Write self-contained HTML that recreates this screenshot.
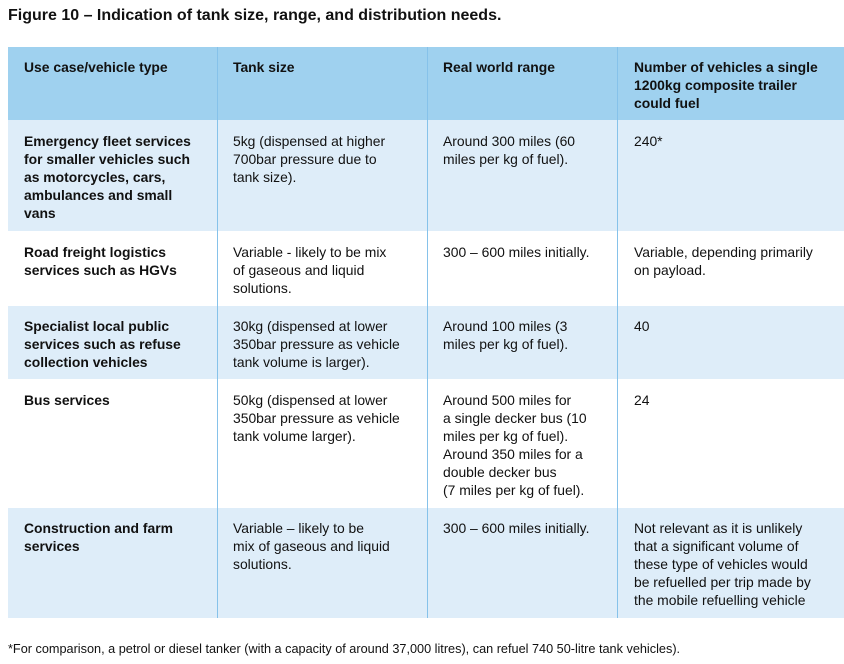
<!DOCTYPE html>
<html><head><meta charset="utf-8"><style>
body{margin:0;width:844px;height:664px;background:#fff;position:relative;overflow:hidden;font-family:"Liberation Sans",sans-serif;color:#111}
.t{position:absolute;left:8px;top:7px;font-size:16px;font-weight:bold}
.r{position:absolute;left:8px;width:836px}
.v{position:absolute;width:1px;background:#86c2ea;top:47px;height:571px}
.c{position:absolute;font-size:13.9px;line-height:18px;white-space:nowrap}
.b{font-weight:bold}
.f{position:absolute;left:8px;top:642px;font-size:12.7px}
</style></head><body>
<div class="t">Figure 10 – Indication of tank size, range, and distribution needs.</div>
<div class="r" style="top:47px;height:73px;background:#9fd1ef"></div>
<div class="r" style="top:120px;height:111px;background:#deedf9"></div>
<div class="r" style="top:306px;height:73px;background:#deedf9"></div>
<div class="r" style="top:508px;height:110px;background:#deedf9"></div>
<div class="v" style="left:217px"></div>
<div class="v" style="left:427px"></div>
<div class="v" style="left:617px"></div>

<div class="c b" style="left:24px;top:58px">Use case/vehicle type</div>
<div class="c b" style="left:233px;top:58px">Tank size</div>
<div class="c b" style="left:443px;top:58px">Real world range</div>
<div class="c b" style="left:634px;top:58px">Number of vehicles a single<br>1200kg composite trailer<br>could fuel</div>

<div class="c b" style="left:24px;top:132px">Emergency fleet services<br>for smaller vehicles such<br>as motorcycles, cars,<br>ambulances and small<br>vans</div>
<div class="c" style="left:233px;top:132px">5kg (dispensed at higher<br>700bar pressure due to<br>tank size).</div>
<div class="c" style="left:443px;top:132px">Around 300 miles (60<br>miles per kg of fuel).</div>
<div class="c" style="left:634px;top:132px">240*</div>

<div class="c b" style="left:24px;top:243px">Road freight logistics<br>services such as HGVs</div>
<div class="c" style="left:233px;top:243px">Variable - likely to be mix<br>of gaseous and liquid<br>solutions.</div>
<div class="c" style="left:443px;top:243px">300 – 600 miles initially.</div>
<div class="c" style="left:634px;top:243px">Variable, depending primarily<br>on payload.</div>

<div class="c b" style="left:24px;top:317px">Specialist local public<br>services such as refuse<br>collection vehicles</div>
<div class="c" style="left:233px;top:317px">30kg (dispensed at lower<br>350bar pressure as vehicle<br>tank volume is larger).</div>
<div class="c" style="left:443px;top:317px">Around 100 miles (3<br>miles per kg of fuel).</div>
<div class="c" style="left:634px;top:317px">40</div>

<div class="c b" style="left:24px;top:391px">Bus services</div>
<div class="c" style="left:233px;top:391px">50kg (dispensed at lower<br>350bar pressure as vehicle<br>tank volume larger).</div>
<div class="c" style="left:443px;top:391px">Around 500 miles for<br>a single decker bus (10<br>miles per kg of fuel).<br>Around 350 miles for a<br>double decker bus<br>(7 miles per kg of fuel).</div>
<div class="c" style="left:634px;top:391px">24</div>

<div class="c b" style="left:24px;top:519px">Construction and farm<br>services</div>
<div class="c" style="left:233px;top:519px">Variable – likely to be<br>mix of gaseous and liquid<br>solutions.</div>
<div class="c" style="left:443px;top:519px">300 – 600 miles initially.</div>
<div class="c" style="left:634px;top:519px">Not relevant as it is unlikely<br>that a significant volume of<br>these type of vehicles would<br>be refuelled per trip made by<br>the mobile refuelling vehicle</div>

<div class="f">*For comparison, a petrol or diesel tanker (with a capacity of around 37,000 litres), can refuel 740 50-litre tank vehicles).</div>
</body></html>
